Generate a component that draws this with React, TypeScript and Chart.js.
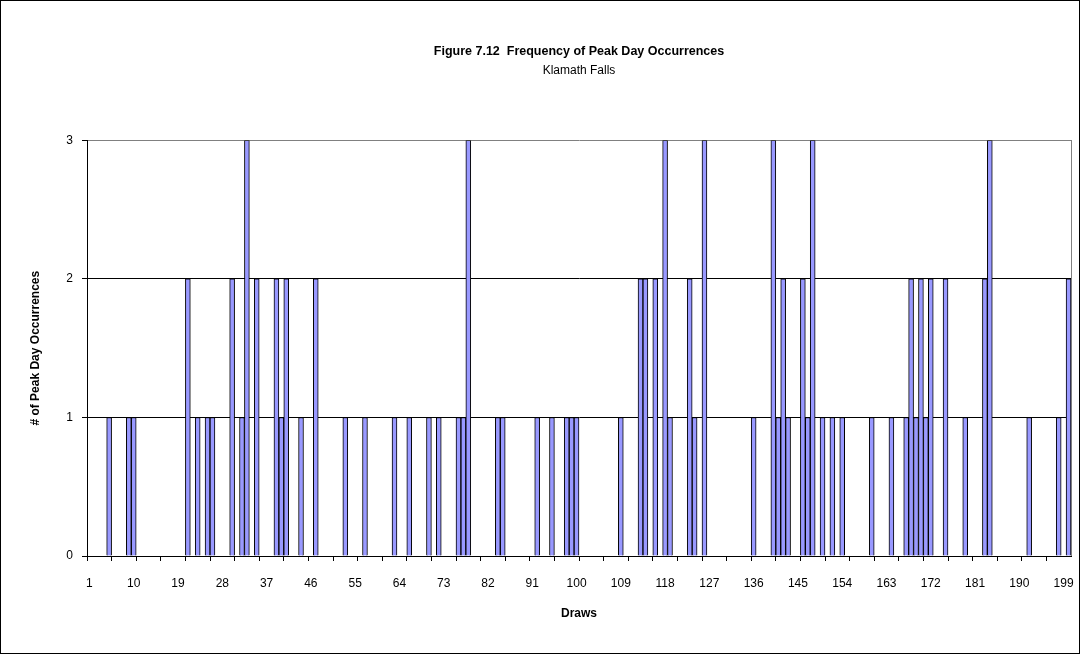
import React, { useEffect, useRef } from 'react';
import { Chart, registerables } from 'chart.js';

Chart.register(...registerables);

const FONT = "'Liberation Sans', Arial, sans-serif";

// Category axis: draws 1..200
const drawLabels: string[] = Array.from({ length: 200 }, (_, i) => String(i + 1));

// Labelled ticks on the category axis
const tickLabels: string[] = ['1', '10', '19', '28', '37', '46', '55', '64', '73', '82', '91', '100', '109', '118', '127', '136', '145', '154', '163', '172', '181', '190', '199'];

// Draws with at least one peak day occurrence, and their counts
const peakDraws: number[] = [
  5, 9, 10, 21, 23, 25, 26, 30, 32, 33,
  35, 39, 40, 41, 44, 47, 53, 57, 63, 66,
  70, 72, 76, 77, 78, 84, 85, 92, 95, 98,
  99, 100, 109, 113, 114, 116, 118, 119, 123, 124,
  126, 136, 140, 141, 142, 143, 146, 147, 148, 150,
  152, 154, 160, 164, 167, 168, 169, 170, 171, 172,
  175, 179, 183, 184, 192, 198, 200,
];
const peakCounts: number[] = [
  1, 1, 1, 2, 1, 1, 1, 2, 1, 3,
  2, 2, 1, 2, 1, 2, 1, 1, 1, 1,
  1, 1, 1, 1, 3, 1, 1, 1, 1, 1,
  1, 1, 1, 2, 2, 2, 3, 1, 2, 1,
  3, 1, 3, 1, 2, 1, 2, 1, 3, 1,
  1, 1, 1, 1, 1, 2, 1, 2, 1, 2,
  2, 1, 2, 3, 1, 1, 2,
];

const yTicks: number[] = [0, 1, 2, 3];

const framePlugin = {
  id: 'frame',
  beforeDatasetsDraw(chart: any) {
    const { ctx, chartArea: a } = chart;
    ctx.save();
    ctx.strokeStyle = '#808080';
    ctx.lineWidth = 1;
    ctx.beginPath();
    const x = Math.round(a.right) + 0.5;
    ctx.moveTo(x, Math.round(a.top));
    ctx.lineTo(x, Math.round(a.bottom));
    ctx.stroke();
    ctx.restore();
  },
  afterDraw(chart: any) {
    const { ctx, width, height } = chart;
    ctx.save();
    ctx.strokeStyle = '#000';
    ctx.lineWidth = 1;
    ctx.strokeRect(0.5, 0.5, width - 1, height - 1);
    ctx.restore();
  },
};

export default function App() {
  const ref = useRef<HTMLCanvasElement | null>(null);

  useEffect(() => {
    document.body.style.margin = '0';
    const values = drawLabels.map((lab) => {
      const k = peakDraws.indexOf(Number(lab));
      return k >= 0 ? peakCounts[k] : 0;
    });
    const chart = new Chart(ref.current as HTMLCanvasElement, {
      type: 'bar',
      data: {
        labels: drawLabels,
        datasets: [
          {
            data: values,
            backgroundColor: '#9999FF',
            borderColor: '#000000',
            borderWidth: 1,
            barPercentage: 1,
            categoryPercentage: 1,
          },
        ],
      },
      plugins: [framePlugin],
      options: {
        responsive: false,
        maintainAspectRatio: false,
        animation: false,
        layout: { padding: { left: 24, right: 9, top: 0, bottom: 20 } },
        plugins: {
          legend: { display: false },
          tooltip: { enabled: false },
          title: {
            display: true,
            text: 'Figure 7.12  Frequency of Peak Day Occurrences',
            color: '#000',
            font: { family: FONT, size: 12.5, weight: 'bold' },
            padding: { top: 44, bottom: 1 },
            fullSize: false,
          },
          subtitle: {
            display: true,
            text: 'Klamath Falls',
            color: '#000',
            font: { family: FONT, size: 12 },
            padding: { top: 3, bottom: 63 },
            fullSize: false,
          },
        },
        scales: {
          x: {
            type: 'category',
            offset: true,
            ticks: {
              autoSkip: false,
              maxRotation: 0,
              minRotation: 0,
              color: '#000',
              font: { family: FONT, size: 12 },
              padding: 15,
              callback: (_v: any, i: number) => (tickLabels.includes(drawLabels[i]) ? drawLabels[i] : ''),
            },
            grid: {
              offset: true,
              drawOnChartArea: false,
              drawTicks: true,
              tickLength: 5,
              color: (c: any) => (typeof c.index === 'number' && c.index % 5 === 0 ? '#000' : 'rgba(0,0,0,0)'),
              tickColor: (c: any) => (typeof c.index === 'number' && c.index % 5 === 0 ? '#000' : 'rgba(0,0,0,0)'),
            },
            border: { color: '#000', width: 1 },
            title: {
              display: true,
              text: 'Draws',
              color: '#000',
              font: { family: FONT, size: 12, weight: 'bold' },
              padding: { top: 0, bottom: 13 },
            },
            afterFit: (s: any) => {
              s.height = 78;
              s.paddingLeft = 0;
              s.paddingRight = 0;
            },
          },
          y: {
            min: yTicks[0],
            max: yTicks[yTicks.length - 1],
            ticks: {
              stepSize: 1,
              color: '#000',
              font: { family: FONT, size: 12 },
              padding: 9,
            },
            grid: {
              color: (c: any) => (c.tick && c.tick.value === 3 ? '#808080' : '#000'),
              tickColor: '#000',
              tickLength: 5,
              lineWidth: 1,
            },
            border: { color: '#000', width: 1 },
            title: {
              display: true,
              text: '# of Peak Day Occurrences',
              color: '#000',
              font: { family: FONT, size: 12, weight: 'bold' },
              padding: { top: 4, bottom: 0 },
            },
            afterFit: (s: any) => {
              s.width = 63;
            },
          },
        },
      } as any,
    });
    return () => chart.destroy();
  }, []);

  return <canvas ref={ref} width={1080} height={654} style={{ display: 'block' }} />;
}
